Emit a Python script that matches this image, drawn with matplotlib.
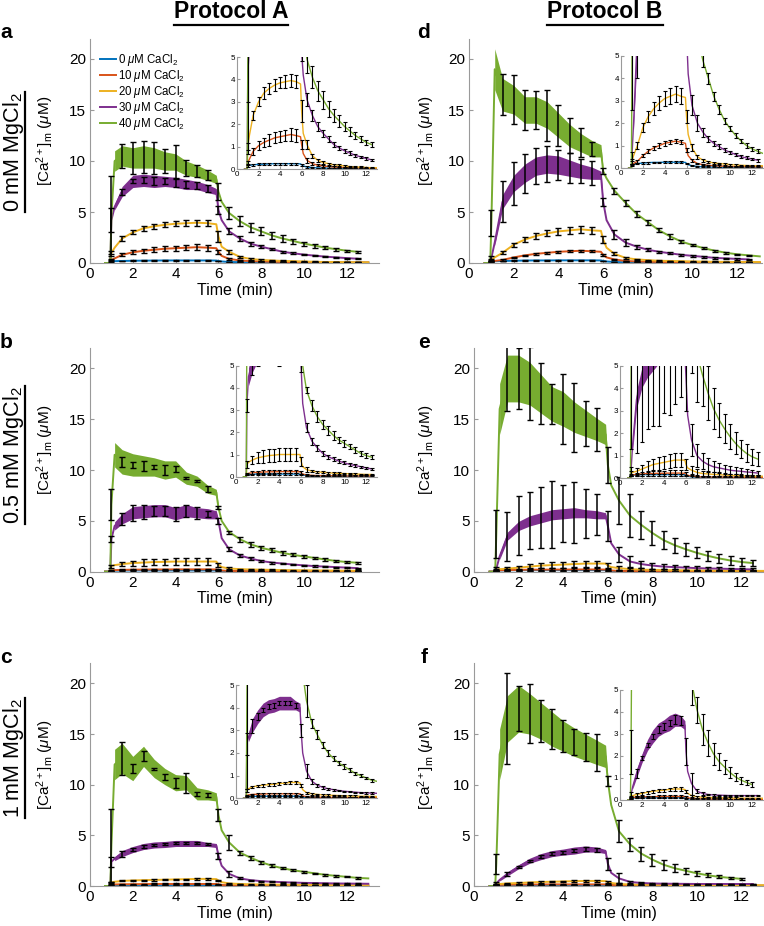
import numpy as np
import matplotlib
matplotlib.use('Agg')
import matplotlib.pyplot as plt
from matplotlib.lines import Line2D

plt.rcParams['font.family'] = ['Liberation Sans', 'DejaVu Sans']
plt.rcParams['mathtext.fontset'] = 'custom'
plt.rcParams['mathtext.rm'] = 'Liberation Sans'
plt.rcParams['mathtext.it'] = 'Liberation Sans:italic'
plt.rcParams['mathtext.bf'] = 'Liberation Sans:bold'

nan = np.nan

# time points of the traces (min) and of the error bars
T = [0.7, 0.95, 1.0, 1.15, 1.5, 2.0, 2.5, 3.0, 3.5, 4.0, 4.5, 5.0, 5.5, 5.9, 6.0,
     6.15, 6.5, 7.0, 7.5, 8.0, 8.5, 9.0, 9.5, 10.0, 10.5, 11.0, 11.5, 12.0, 12.5, 13.0]
TE = [1.0, 1.5, 2.0, 2.5, 3.0, 3.5, 4.0, 4.5, 5.0, 5.5, 6.0, 6.5, 7.0, 7.5, 8.0,
      8.5, 9.0, 9.5, 10.0, 10.5, 11.0, 11.5, 12.0, 12.5]

labels = [r'0 $\mu$M CaCl$_2$', r'10 $\mu$M CaCl$_2$', r'20 $\mu$M CaCl$_2$',
          r'30 $\mu$M CaCl$_2$', r'40 $\mu$M CaCl$_2$']
colors = ['#0072BD', '#D95319', '#EDB120', '#7E2F8E', '#77AC30']

# ---- panel a : 0 mM MgCl2, protocol A
a_0 = [0, 0, 0.15, 0.18, 0.2, 0.22, 0.23, 0.24, 0.25, 0.25, 0.25, 0.25, 0.25, 0.24, 0.2, 0.15, 0.1, 0.08, 0.06, 0.05, 0.05, 0.04, 0.04, 0.04, 0.03, 0.03, 0.03, 0.03, 0.03, 0.03]
a_10 = [0, 0, 0.3, 0.45, 0.8, 1.05, 1.2, 1.3, 1.4, 1.45, 1.5, 1.55, 1.5, 1.45, 1.1, 0.7, 0.4, 0.25, 0.18, 0.15, 0.12, 0.1, 0.09, 0.08, 0.07, 0.06, 0.06, 0.05, 0.05, 0.05]
a_20 = [0, 0, 1.0, 1.5, 2.4, 3.0, 3.4, 3.6, 3.75, 3.85, 3.9, 3.95, 3.9, 3.8, 2.6, 1.6, 1.1, 0.6, 0.4, 0.3, 0.25, 0.2, 0.18, 0.15, 0.12, 0.1, 0.1, 0.08, 0.07, 0.07]
a_30 = [0, 0, 4.2, 5.5, 7.0, 8.0, 8.1, 8.0, 8.0, 7.9, 7.7, 7.6, 7.3, 7.0, 5.2, 4.2, 3.1, 2.4, 1.9, 1.6, 1.35, 1.1, 0.95, 0.82, 0.72, 0.62, 0.55, 0.48, 0.42, nan]
a_40 = [0, 0, 4.6, 10.0, 10.5, 10.3, 10.4, 10.3, 10.0, 9.9, 9.3, 9.0, 8.6, 8.2, 7.0, 6.0, 4.9, 4.1, 3.5, 3.1, 2.7, 2.4, 2.15, 1.9, 1.7, 1.5, 1.35, 1.2, 1.1, nan]
a_0e = [0.03, 0.04, 0.04, 0.04, 0.05, 0.05, 0.05, 0.05, 0.05, 0.05, 0.04, 0.03, 0.03, 0.02, 0.02, 0.02, 0.02, 0.02, 0.02, 0.02, 0.02, 0.02, 0.02, 0.02]
a_10e = [0.05, 0.15, 0.2, 0.2, 0.25, 0.25, 0.25, 0.25, 0.3, 0.3, 0.2, 0.1, 0.06, 0.05, 0.04, 0.04, 0.03, 0.03, 0.03, 0.03, 0.03, 0.03, 0.03, 0.03]
a_20e = [0.15, 0.2, 0.2, 0.25, 0.25, 0.25, 0.25, 0.3, 0.3, 0.3, 0.5, 0.2, 0.1, 0.08, 0.06, 0.05, 0.05, 0.04, 0.04, 0.04, 0.03, 0.03, 0.03, 0.03]
a_30e = [1.2, 0.3, 0.2, 0.3, 0.4, 0.3, 0.4, 0.3, 0.3, 0.3, 0.4, 0.3, 0.25, 0.2, 0.15, 0.12, 0.1, 0.1, 0.08, 0.08, 0.06, 0.06, 0.05, 0.05]
a_40e = [3.9, 1.2, 1.6, 1.6, 1.6, 1.2, 1.7, 0.8, 0.6, 0.5, 0.8, 0.6, 0.5, 0.45, 0.4, 0.35, 0.3, 0.25, 0.2, 0.2, 0.15, 0.15, 0.12, 0.1]
a_30b = [0.3, 0.5, 0.6, 0.6, 0.6, 0.5, 0.5, 0.5, 0.4, 0.4, 0.3, 0.1]
a_40b = [1.0, 1.0, 1.0, 1.1, 1.0, 0.9, 0.8, 0.7, 0.6, 0.5, 0.4, 0.2]

# ---- panel b : 0.5 mM MgCl2, protocol A
b_0 = [0, 0, 0.08, 0.1, 0.11, 0.12, 0.12, 0.12, 0.12, 0.12, 0.12, 0.12, 0.12, 0.12, 0.1, 0.08, 0.05, 0.04, 0.03, 0.03, 0.03, 0.02, 0.02, 0.02, 0.02, 0.02, 0.02, 0.02, 0.02, nan]
b_10 = [0, 0, 0.12, 0.15, 0.18, 0.2, 0.21, 0.22, 0.22, 0.23, 0.23, 0.23, 0.23, 0.22, 0.18, 0.12, 0.08, 0.06, 0.05, 0.05, 0.04, 0.04, 0.04, 0.03, 0.03, 0.03, 0.03, 0.03, 0.03, nan]
b_20 = [0, 0, 0.55, 0.65, 0.75, 0.85, 0.9, 0.95, 0.97, 1.0, 1.0, 1.0, 1.0, 1.0, 0.7, 0.45, 0.32, 0.25, 0.22, 0.2, 0.18, 0.16, 0.15, 0.14, 0.13, 0.12, 0.11, 0.1, 0.1, nan]
b_30 = [0, 0, 3.2, 4.5, 5.2, 5.8, 5.9, 6.0, 6.0, 5.7, 6.0, 5.8, 5.7, 5.6, 5.0, 3.3, 2.2, 1.6, 1.3, 1.05, 0.9, 0.8, 0.7, 0.62, 0.55, 0.5, 0.45, 0.4, 0.35, nan]
b_40 = [0, 0, 6.6, 11.5, 10.8, 10.5, 10.4, 10.3, 10.0, 10.1, 9.2, 8.9, 8.1, 7.8, 6.3, 5.0, 3.9, 3.2, 2.7, 2.35, 2.1, 1.85, 1.65, 1.5, 1.35, 1.2, 1.05, 0.95, 0.88, nan]
b_0e = [0.02, 0.03, 0.03, 0.03, 0.03, 0.03, 0.03, 0.03, 0.03, 0.03, 0.03, 0.02, 0.02, 0.02, 0.02, 0.02, 0.02, 0.02, 0.02, 0.02, 0.02, 0.02, 0.02, 0.02]
b_10e = [0.05, 0.06, 0.07, 0.08, 0.08, 0.08, 0.08, 0.08, 0.08, 0.08, 0.06, 0.04, 0.03, 0.03, 0.03, 0.03, 0.03, 0.03, 0.03, 0.03, 0.03, 0.03, 0.03, 0.03]
b_20e = [0.15, 0.2, 0.25, 0.3, 0.3, 0.3, 0.3, 0.3, 0.3, 0.3, 0.2, 0.1, 0.06, 0.05, 0.05, 0.04, 0.04, 0.04, 0.03, 0.03, 0.03, 0.03, 0.03, 0.03]
b_30e = [0.3, 0.6, 0.8, 0.7, 0.5, 0.5, 0.7, 0.6, 0.6, 0.3, 0.3, 0.2, 0.15, 0.12, 0.1, 0.1, 0.08, 0.08, 0.07, 0.06, 0.06, 0.05, 0.05, 0.05]
b_40e = [1.5, 0.5, 0.3, 0.5, 0.2, 0.5, 0.3, 0.1, 0.1, 0.3, 0.15, 0.15, 0.25, 0.25, 0.2, 0.2, 0.2, 0.15, 0.15, 0.12, 0.12, 0.1, 0.1, 0.1]
b_30b = [0.4, 0.5, 0.6, 0.6, 0.6, 0.6, 0.6, 0.6, 0.5, 0.5, 0.4, 0.1]
b_40b = [1.2, 1.2, 1.1, 1.0, 0.9, 0.9, 0.8, 0.6, 0.5, 0.4, 0.3, 0.1]

# ---- panel c : 1 mM MgCl2, protocol A
c_0 = [0, 0, 0.06, 0.08, 0.08, 0.09, 0.09, 0.09, 0.09, 0.09, 0.09, 0.09, 0.09, 0.09, 0.07, 0.05, 0.03, 0.02, 0.02, 0.02, 0.02, 0.02, 0.02, 0.02, 0.02, 0.02, 0.02, 0.02, 0.02, 0.02]
c_10 = [0, 0, 0.12, 0.15, 0.17, 0.18, 0.19, 0.2, 0.2, 0.2, 0.2, 0.2, 0.2, 0.2, 0.16, 0.1, 0.07, 0.05, 0.05, 0.04, 0.04, 0.04, 0.03, 0.03, 0.03, 0.03, 0.03, 0.03, 0.03, 0.03]
c_20 = [0, 0, 0.35, 0.42, 0.5, 0.55, 0.58, 0.6, 0.62, 0.65, 0.67, 0.7, 0.7, 0.68, 0.55, 0.38, 0.25, 0.2, 0.17, 0.15, 0.14, 0.13, 0.12, 0.11, 0.1, 0.1, 0.09, 0.09, 0.08, 0.08]
c_30 = [0, 0, 2.4, 2.7, 3.2, 3.6, 3.9, 4.05, 4.1, 4.2, 4.2, 4.2, 4.1, 4.0, 3.0, 2.0, 1.2, 0.75, 0.58, 0.48, 0.42, 0.38, 0.34, 0.31, 0.29, 0.27, 0.25, 0.24, 0.23, 0.22]
c_40 = [0, 0, 4.0, 12.0, 12.6, 11.6, 12.8, 11.6, 10.8, 10.2, 10.2, 9.1, 9.0, 8.8, 7.0, 5.5, 4.3, 3.3, 2.8, 2.35, 2.0, 1.75, 1.55, 1.4, 1.25, 1.1, 1.0, 0.9, 0.8, 0.75]
c_0e = [0.02, 0.02, 0.02, 0.02, 0.02, 0.02, 0.02, 0.02, 0.02, 0.02, 0.02, 0.02, 0.02, 0.02, 0.02, 0.02, 0.02, 0.02, 0.02, 0.02, 0.02, 0.02, 0.02, 0.02]
c_10e = [0.04, 0.04, 0.04, 0.05, 0.05, 0.05, 0.05, 0.05, 0.05, 0.05, 0.04, 0.03, 0.03, 0.03, 0.03, 0.03, 0.03, 0.03, 0.03, 0.03, 0.03, 0.03, 0.03, 0.03]
c_20e = [0.05, 0.05, 0.05, 0.06, 0.06, 0.06, 0.06, 0.06, 0.06, 0.06, 0.06, 0.05, 0.04, 0.04, 0.03, 0.03, 0.03, 0.03, 0.03, 0.03, 0.03, 0.03, 0.03, 0.03]
c_30e = [0.5, 0.3, 0.15, 0.1, 0.1, 0.1, 0.1, 0.1, 0.1, 0.1, 0.3, 0.3, 0.1, 0.06, 0.05, 0.04, 0.04, 0.03, 0.03, 0.03, 0.03, 0.03, 0.03, 0.03]
c_40e = [3.6, 1.6, 0.4, 0.5, 0.1, 0.3, 0.5, 1.0, 0.2, 0.2, 0.6, 0.7, 0.2, 0.2, 0.15, 0.15, 0.12, 0.1, 0.1, 0.08, 0.08, 0.07, 0.06, 0.06]
c_30b = [0.2, 0.3, 0.3, 0.3, 0.3, 0.3, 0.3, 0.3, 0.3, 0.2, 0.2, 0.05]
c_40b = [1.5, 1.5, 1.2, 1.0, 0.9, 0.8, 0.8, 0.7, 0.6, 0.5, 0.4, 0.1]

# ---- panel d : 0 mM MgCl2, protocol B
d_0 = [0, 0, 0.15, 0.17, 0.2, 0.22, 0.24, 0.25, 0.25, 0.26, 0.26, 0.26, 0.26, 0.25, 0.2, 0.15, 0.1, 0.07, 0.05, 0.04, 0.04, 0.03, 0.03, 0.03, 0.03, 0.03, 0.03, 0.03, 0.03, 0.03]
d_10 = [0, 0, 0.15, 0.2, 0.3, 0.55, 0.75, 0.9, 1.0, 1.1, 1.15, 1.2, 1.15, 1.1, 0.8, 0.55, 0.35, 0.2, 0.15, 0.12, 0.1, 0.09, 0.08, 0.07, 0.06, 0.06, 0.05, 0.05, 0.05, 0.05]
d_20 = [0, 0, 0.3, 0.55, 1.0, 1.8, 2.3, 2.65, 2.9, 3.1, 3.2, 3.3, 3.2, 3.15, 2.3, 1.5, 0.9, 0.5, 0.35, 0.28, 0.22, 0.2, 0.18, 0.15, 0.14, 0.12, 0.11, 0.1, 0.1, 0.1]
d_30 = [0, 0, 0.5, 2.0, 6.0, 7.8, 8.8, 9.5, 9.7, 9.6, 9.3, 9.0, 8.8, 8.6, 6.0, 4.2, 2.8, 2.0, 1.6, 1.3, 1.1, 0.95, 0.8, 0.7, 0.6, 0.5, 0.45, 0.4, 0.35, nan]
d_40 = [0, 0, 3.9, 19.0, 16.5, 16.0, 15.0, 15.0, 14.5, 13.5, 12.5, 11.8, 11.2, 11.0, 9.0, 8.3, 7.1, 5.9, 4.8, 4.0, 3.2, 2.6, 2.1, 1.75, 1.45, 1.2, 1.0, 0.85, 0.75, 0.65]
d_0e = [0.03, 0.03, 0.04, 0.04, 0.04, 0.04, 0.04, 0.04, 0.04, 0.04, 0.03, 0.03, 0.02, 0.02, 0.02, 0.02, 0.02, 0.02, 0.02, 0.02, 0.02, 0.02, 0.02, 0.02]
d_10e = [0.05, 0.06, 0.08, 0.08, 0.1, 0.1, 0.1, 0.1, 0.1, 0.1, 0.1, 0.06, 0.04, 0.03, 0.03, 0.03, 0.03, 0.03, 0.03, 0.03, 0.03, 0.03, 0.03, 0.03]
d_20e = [0.1, 0.15, 0.2, 0.25, 0.3, 0.3, 0.35, 0.35, 0.35, 0.35, 0.3, 0.15, 0.08, 0.06, 0.05, 0.05, 0.04, 0.04, 0.04, 0.03, 0.03, 0.03, 0.03, 0.03]
d_30e = [0.2, 2.0, 2.1, 1.9, 1.8, 1.8, 1.5, 1.5, 1.2, 1.2, 0.4, 0.45, 0.35, 0.2, 0.15, 0.12, 0.1, 0.1, 0.08, 0.08, 0.07, 0.07, 0.06, 0.06]
d_40e = [1.3, 2.0, 2.4, 2.0, 1.9, 2.5, 2.0, 1.7, 1.4, 0.7, 0.3, 0.3, 0.3, 0.3, 0.25, 0.2, 0.2, 0.15, 0.12, 0.1, 0.1, 0.1, 0.08, 0.08]
d_30b = [0.3, 0.7, 0.8, 0.9, 0.9, 0.9, 0.9, 0.8, 0.7, 0.6, 0.4, 0.1]
d_40b = [2.0, 1.6, 1.4, 1.3, 1.3, 1.3, 1.2, 1.1, 0.9, 0.8, 0.6, 0.2]

# ---- panel e : 0.5 mM MgCl2, protocol B
e_0 = [0, 0, 0.1, 0.12, 0.14, 0.15, 0.15, 0.15, 0.15, 0.15, 0.15, 0.15, 0.15, 0.15, 0.12, 0.08, 0.05, 0.04, 0.03, 0.03, 0.03, 0.03, 0.03, 0.02, 0.02, 0.02, 0.02, 0.02, 0.02, 0.02]
e_10 = [0, 0, 0.12, 0.14, 0.16, 0.18, 0.2, 0.2, 0.21, 0.21, 0.22, 0.22, 0.22, 0.21, 0.17, 0.12, 0.08, 0.06, 0.05, 0.05, 0.04, 0.04, 0.04, 0.03, 0.03, 0.03, 0.03, 0.03, 0.03, 0.03]
e_20 = [0, 0, 0.2, 0.25, 0.3, 0.4, 0.5, 0.6, 0.65, 0.7, 0.75, 0.8, 0.8, 0.8, 0.6, 0.45, 0.35, 0.25, 0.2, 0.18, 0.16, 0.15, 0.13, 0.12, 0.11, 0.1, 0.09, 0.08, 0.08, 0.08]
e_30 = [0, 0, 0.3, 1.5, 3.5, 4.5, 5.0, 5.3, 5.6, 5.7, 5.8, 5.7, 5.6, 5.5, 4.5, 2.8, 1.7, 1.0, 0.75, 0.6, 0.5, 0.45, 0.4, 0.35, 0.32, 0.3, 0.27, 0.25, 0.22, nan]
e_40 = [0, 0, 3.7, 16.0, 19.0, 19.0, 18.5, 17.5, 16.5, 16.0, 15.2, 14.6, 14.0, 13.5, 10.5, 8.5, 7.0, 5.5, 4.6, 3.8, 3.1, 2.6, 2.2, 1.85, 1.55, 1.3, 1.1, 0.95, 0.85, nan]
e_0e = [0.03, 0.03, 0.04, 0.04, 0.04, 0.04, 0.04, 0.04, 0.04, 0.04, 0.03, 0.03, 0.02, 0.02, 0.02, 0.02, 0.02, 0.02, 0.02, 0.02, 0.02, 0.02, 0.02, 0.02]
e_10e = [0.05, 0.08, 0.1, 0.12, 0.12, 0.12, 0.12, 0.12, 0.12, 0.12, 0.1, 0.08, 0.06, 0.05, 0.05, 0.04, 0.04, 0.04, 0.04, 0.04, 0.04, 0.04, 0.04, 0.04]
e_20e = [0.1, 0.15, 0.2, 0.25, 0.25, 0.3, 0.3, 0.3, 0.3, 0.3, 0.25, 0.2, 0.15, 0.12, 0.1, 0.1, 0.08, 0.08, 0.07, 0.06, 0.06, 0.05, 0.05, 0.05]
e_30e = [0.2, 2.4, 2.9, 2.8, 3.0, 3.3, 2.8, 3.0, 2.4, 2.0, 1.5, 0.7, 0.5, 0.35, 0.3, 0.25, 0.2, 0.2, 0.18, 0.15, 0.15, 0.12, 0.12, 0.1]
e_40e = [2.4, 3.2, 3.0, 3.6, 3.0, 2.0, 3.4, 3.4, 2.2, 2.1, 1.8, 2.3, 2.1, 1.4, 1.2, 0.9, 0.75, 0.65, 0.55, 0.5, 0.4, 0.4, 0.35, 0.3]
e_30b = [0.3, 0.4, 0.45, 0.5, 0.5, 0.5, 0.5, 0.5, 0.4, 0.4, 0.3, 0.1]
e_40b = [2.5, 2.3, 2.3, 2.1, 1.9, 1.7, 1.7, 1.5, 1.3, 1.1, 1.0, 0.3]

# ---- panel f : 1 mM MgCl2, protocol B
f_0 = [0, 0, 0.08, 0.09, 0.1, 0.1, 0.1, 0.1, 0.1, 0.1, 0.1, 0.1, 0.1, 0.1, 0.08, 0.06, 0.04, 0.03, 0.02, 0.02, 0.02, 0.02, 0.02, 0.02, 0.02, 0.02, 0.02, 0.02, 0.02, 0.02]
f_10 = [0, 0, 0.1, 0.12, 0.13, 0.14, 0.15, 0.15, 0.16, 0.16, 0.16, 0.16, 0.16, 0.16, 0.13, 0.1, 0.07, 0.05, 0.05, 0.04, 0.04, 0.04, 0.04, 0.03, 0.03, 0.03, 0.03, 0.03, 0.03, 0.03]
f_20 = [0, 0, 0.15, 0.2, 0.25, 0.3, 0.35, 0.4, 0.42, 0.45, 0.48, 0.5, 0.5, 0.48, 0.4, 0.3, 0.2, 0.15, 0.13, 0.12, 0.11, 0.1, 0.1, 0.09, 0.09, 0.08, 0.08, 0.08, 0.08, 0.08]
f_30 = [0, 0, 0.25, 0.6, 1.2, 1.9, 2.5, 2.9, 3.2, 3.35, 3.5, 3.65, 3.6, 3.4, 2.2, 1.3, 0.75, 0.4, 0.3, 0.25, 0.23, 0.22, 0.21, 0.2, 0.2, 0.2, 0.2, 0.2, 0.2, nan]
f_40 = [0, 0, 2.2, 13.0, 16.5, 17.5, 17.0, 16.3, 15.5, 14.8, 14.2, 13.7, 13.2, 12.8, 10.4, 8.0, 5.4, 4.1, 3.2, 2.6, 2.1, 1.75, 1.5, 1.25, 1.05, 0.9, 0.8, 0.7, nan, nan]
f_0e = [0.02, 0.02, 0.02, 0.02, 0.02, 0.02, 0.02, 0.02, 0.02, 0.02, 0.02, 0.02, 0.02, 0.02, 0.02, 0.02, 0.02, 0.02, 0.02, 0.02, 0.02, 0.02, 0.02, 0.02]
f_10e = [0.04, 0.04, 0.04, 0.05, 0.05, 0.05, 0.05, 0.05, 0.05, 0.05, 0.04, 0.03, 0.03, 0.03, 0.03, 0.03, 0.03, 0.03, 0.03, 0.03, 0.03, 0.03, 0.03, 0.03]
f_20e = [0.05, 0.05, 0.06, 0.06, 0.06, 0.06, 0.07, 0.07, 0.07, 0.07, 0.06, 0.05, 0.04, 0.04, 0.03, 0.03, 0.03, 0.03, 0.03, 0.03, 0.03, 0.03, 0.03, 0.03]
f_30e = [0.1, 0.2, 0.1, 0.1, 0.12, 0.15, 0.15, 0.15, 0.2, 0.2, 0.6, 0.5, 0.08, 0.05, 0.04, 0.04, 0.03, 0.03, 0.03, 0.03, 0.03, 0.03, 0.03, 0.03]
f_40e = [1.0, 4.5, 2.2, 2.9, 2.1, 2.0, 1.6, 1.3, 1.4, 1.8, 0.5, 1.1, 0.6, 0.7, 0.6, 0.5, 0.4, 0.3, 0.25, 0.2, 0.15, 0.12, 0.1, nan]
f_30b = [0.1, 0.2, 0.2, 0.25, 0.3, 0.3, 0.3, 0.35, 0.3, 0.25, 0.2, 0.05]
f_40b = [2.5, 2.3, 2.3, 2.0, 1.8, 1.7, 1.5, 1.4, 1.3, 1.2, 1.1, 0.3]

# figure layout in pixels: (left, top, right, bottom), x-limit
W, H = 764, 926
panels = [
    ('a', [a_0, a_10, a_20, a_30, a_40], [a_0e, a_10e, a_20e, a_30e, a_40e], [a_30b, a_40b],
     (90, 38.6, 379, 263), 13.5, (237, 57, 377, 169.3)),
    ('b', [b_0, b_10, b_20, b_30, b_40], [b_0e, b_10e, b_20e, b_30e, b_40e], [b_30b, b_40b],
     (90, 348, 379, 571.7), 13.5, (236, 365.7, 377, 476.7)),
    ('c', [c_0, c_10, c_20, c_30, c_40], [c_0e, c_10e, c_20e, c_30e, c_40e], [c_30b, c_40b],
     (90, 663.2, 379, 886), 13.5, (236, 685, 377, 798.3)),
    ('d', [d_0, d_10, d_20, d_30, d_40], [d_0e, d_10e, d_20e, d_30e, d_40e], [d_30b, d_40b],
     (469, 38.6, 762, 263), 13.1, (621, 56, 763, 168)),
    ('e', [e_0, e_10, e_20, e_30, e_40], [e_0e, e_10e, e_20e, e_30e, e_40e], [e_30b, e_40b],
     (474, 348, 764, 571.7), 13.0, (620, 366, 763, 478)),
    ('f', [f_0, f_10, f_20, f_30, f_40], [f_0e, f_10e, f_20e, f_30e, f_40e], [f_30b, f_40b],
     (474, 663.2, 764, 886), 13.0, (620, 690, 763, 800)),
]

T = np.array(T)
idx = [int(np.argmin(np.abs(T - t))) for t in TE]
band_sl = slice(3, 15)  # 1.15 .. 6.0 min

fig = plt.figure(figsize=(W / 100, H / 100), dpi=100)


def px_rect(r):
    l, t, rr, b = r
    return [l / W, 1 - b / H, (rr - l) / W, (b - t) / H]


def style(ax, small):
    for s in ['top', 'right']:
        ax.spines[s].set_visible(False)
    for s in ['left', 'bottom']:
        ax.spines[s].set_color('#9a9a9a')
        ax.spines[s].set_linewidth(0.8)
    ax.tick_params(direction='in', length=2 if small else 3, color='#9a9a9a',
                   labelsize=5.8 if small else 11, pad=1.5 if small else 3)


def draw(ax, vals, errs, bands, small):
    lw = 1.0 if small else 1.4
    lines = []
    for k in range(5):
        y = np.array(vals[k], dtype=float)
        if k >= 3:
            b = np.array(bands[k - 3])
            ax.fill_between(T[band_sl], y[band_sl] - b, y[band_sl] + b,
                            color=colors[k], lw=0)
        ln, = ax.plot(T, y, color=colors[k], lw=lw)
        lines.append(ln)
    for k in range(5):
        y = np.array(vals[k], dtype=float)
        ax.errorbar(TE, y[idx], yerr=np.array(errs[k], dtype=float), fmt='none',
                    ecolor='k', elinewidth=0.8 if small else 1.1,
                    capsize=1.2 if small else 2.4, capthick=0.8 if small else 1.0)
    return lines


for name, vals, errs, bands, rect, xmax, irect in panels:
    ax = fig.add_axes(px_rect(rect))
    lines = draw(ax, vals, errs, bands, False)
    ax.set_xlim(0, xmax)
    ax.set_ylim(0, 22)
    ax.set_xticks(range(0, 13, 2))
    ax.set_yticks([0, 5, 10, 15, 20])
    style(ax, False)
    ax.set_xlabel('Time (min)', fontsize=11.5, labelpad=1)

    ins = fig.add_axes(px_rect(irect))
    draw(ins, vals, errs, bands, True)
    ins.set_xlim(0, 13)
    ins.set_ylim(0, 5)
    ins.set_xticks(range(0, 13, 2))
    ins.set_yticks(range(0, 6))
    style(ins, True)

    # y label and panel letter
    yc = (rect[1] + rect[3]) / 2 - 10
    xl = 45 if rect[0] < 300 else 426
    fig.text(xl / W, 1 - yc / H, r'[Ca$^{2+}$]$_\mathrm{m}$ ($\mu$M)', rotation=90,
             ha='center', va='center', fontsize=11)
    lx = 6 if rect[0] < 300 else 424
    fig.text(lx / W, 1 - (rect[1] - 6) / H, name, fontsize=15, fontweight='bold',
             ha='center', va='center')

    if name == 'a':
        ax.legend(lines, labels, loc='upper left', bbox_to_anchor=(100 / W, 1 - 52 / H),
                  bbox_transform=fig.transFigure, frameon=False, fontsize=8.3,
                  handlelength=1.4, handletextpad=0.2, labelspacing=0.0,
                  borderpad=0, borderaxespad=0)

# column titles and row labels, underlined
titles = []
titles.append(fig.text(231 / W, 1 - 12 / H, 'Protocol A', fontsize=16.5, fontweight='bold',
                       ha='center', va='center'))
titles.append(fig.text(605 / W, 1 - 12 / H, 'Protocol B', fontsize=16.5, fontweight='bold',
                       ha='center', va='center'))
rows = []
for txt, yc in [('0 mM MgCl$_2$', 152), ('0.5 mM MgCl$_2$', 455), ('1 mM MgCl$_2$', 758)]:
    rows.append(fig.text(14 / W, 1 - yc / H, txt, fontsize=15.5, rotation=90,
                         ha='center', va='center'))

fig.canvas.draw()
r = fig.canvas.get_renderer()
inv = fig.transFigure.inverted()
for t in titles:
    bb = t.get_window_extent(r)
    (x0, y0), (x1, y1) = inv.transform([(bb.x0, bb.y0 - 1), (bb.x1, bb.y1)])
    fig.add_artist(Line2D([x0, x1], [y0, y0], color='k', lw=1.6, transform=fig.transFigure))
for t in rows:
    bb = t.get_window_extent(r)
    (x0, y0), (x1, y1) = inv.transform([(bb.x0, bb.y0), (bb.x1 - 2, bb.y1)])
    fig.add_artist(Line2D([x1, x1], [y0, y1], color='k', lw=1.6, transform=fig.transFigure))

fig.savefig('out.png', dpi=100)
